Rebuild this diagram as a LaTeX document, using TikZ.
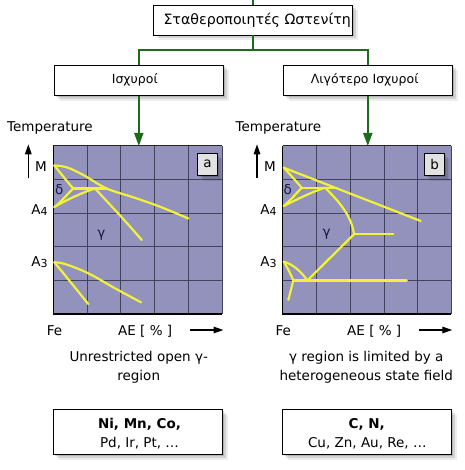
\documentclass[tikz,border=0pt]{standalone}
\usepackage{fontspec}
\setmainfont{DejaVu Sans}
\usetikzlibrary{arrows.meta,shadows}
\definecolor{conngreen}{RGB}{28,108,28}
\definecolor{chartbg}{RGB}{146,146,188}
\definecolor{gridc}{RGB}{66,66,92}
\definecolor{curvey}{RGB}{242,242,62}
\definecolor{greekc}{RGB}{22,22,70}
\definecolor{labelbg}{RGB}{226,226,226}
\tikzset{
  softshadow/.style={
    drop shadow={shadow xshift=1.5pt,shadow yshift=-1.5pt,opacity=0.14,fill=black},
    drop shadow={shadow xshift=3.5pt,shadow yshift=-3.5pt,opacity=0.11,fill=black},
    drop shadow={shadow xshift=5.5pt,shadow yshift=-5.5pt,opacity=0.07,fill=black}},
  box/.style={draw=black, line width=0.8pt, fill=white, softshadow, inner sep=0pt},
  boxtext/.style={inner sep=0pt, font=\fontsize{12.5}{15}\selectfont},
  lbl/.style={inner sep=0pt, font=\fontsize{13.5}{16}\selectfont},
  conn/.style={draw=conngreen, line width=2pt},
  connarrow/.style={conn, -{Triangle[width=9pt,length=13pt]}},
  axisarrow/.style={draw=black, line width=1.3pt, -{Triangle[width=6.5pt,length=10pt]}},
  ycurve/.style={draw=curvey, line width=2.2pt, line cap=round, line join=round},
  gridline/.style={draw=gridc, line width=0.8pt},
  chartnode/.style={fill=chartbg, inner sep=0pt, minimum width=168.7pt, minimum height=168pt, anchor=north west},
  greek/.style={inner sep=0pt, text=greekc, font=\fontsize{13.5}{15}\selectfont},
  tagbox/.style={draw=black, line width=0.9pt, fill=labelbg, softshadow, inner sep=0pt, minimum width=19.6pt, minimum height=21.7pt, font=\fontsize{13.5}{16}\selectfont}
}
\begin{document}
\begin{tikzpicture}[x=1pt,y=-1pt]
\useasboundingbox (0,0) rectangle (464,470);
\fill[white] (0,0) rectangle (464,470);

% ---- top hierarchy
\coordinate (topend) at (253.3,0);
\node[box, minimum width=199pt, minimum height=30pt] (tb) at (252.8,20) {};
\node[inner sep=0pt, anchor=west, font=\fontsize{14.2}{16}\selectfont] (tbt) at (163.3,20) {Σταθεροποιητές Ωστενίτη};
\node[box, minimum width=169pt, minimum height=30.7pt] (lb) at (138.8,80.3) {};
\node[box, minimum width=169pt, minimum height=30.7pt] (rb) at (367.8,80.3) {};
\node[boxtext] (lbt) at (134.8,80.3) {Ισχυροί};
\node[boxtext] (rbt) at (364.7,80.3) {Λιγότερο Ισχυροί};

\draw[conn] (topend) -- (tb.north -| topend);
\draw[conn] (tb.south -| topend) -- (253.3,51);
\draw[conn] (lb.north) -- ++(0,-14.3) -| (rb.north);

% ---- charts
\node[chartnode] (ca) at (53.3,146) {};
\node[chartnode] (cb) at (282.7,146) {};

\draw[connarrow] (lb.south) -- (lb.south |- ca.north);
\draw[connarrow] (rb.south) -- (rb.south |- cb.north);

\foreach \ox in {53.3,282.7}{
  \begin{scope}[shift={(\ox,146)}]
    \foreach \i in {1,2,3,4}{
      \draw[gridline] (\i*33.74,0) -- (\i*33.74,168);
      \draw[gridline] (0,\i*33.6) -- (168.7,\i*33.6);
    }
    \draw[gridline] (168.7,0) -- (168.7,168);
    \draw[draw=black!85, line width=1pt] (0,0) -- (168.7,0);
    \draw[black, line width=1.3pt] (0,0) -- (0,168) -- (168.7,168);
  \end{scope}
}

% chart a curves
\begin{scope}[shift={(53.3,146)}]
  \draw[ycurve] plot[smooth, tension=0.6] coordinates {(1,19.5) (13.4,21.3) (30,29) (53.4,42.5) (80,51.3) (106.7,60.7) (135,72.5)};
  \draw[ycurve] (1,19.5) .. controls (9,29) and (14,36) .. (20,42.5);
  \draw[ycurve] (1,61) .. controls (9,55) and (14,48) .. (20,42.5);
  \draw[ycurve] (20,42.5) -- (53.4,42.5);
  \draw[ycurve] (1,61) .. controls (15,53) and (28,47) .. (41.7,42.5);
  \draw[ycurve] (41.7,42.5) .. controls (58,60) and (74,77) .. (88.4,94);
  \draw[ycurve] plot[smooth, tension=0.6] coordinates {(1,116.3) (11.7,118) (35,127.3) (61.7,142.3) (87.7,156.3)};
  \draw[ycurve] (1,116.3) .. controls (10,127) and (22,142) .. (35,158);
\end{scope}

% chart b curves
\begin{scope}[shift={(282.7,146)}]
  \draw[ycurve] (1,21.7) -- (138,75);
  \draw[ycurve] (1,21.7) .. controls (8,29) and (14,36) .. (19,41.7);
  \draw[ycurve] (1,60) .. controls (8,54) and (14,47) .. (19,41.7);
  \draw[ycurve] (19,41.7) -- (54,41.7);
  \draw[ycurve] (1,60) .. controls (15,53) and (29,46) .. (42.3,41.7);
  \draw[ycurve] (42.3,41.7) .. controls (56,55) and (69,70) .. (71.3,88.3);
  \draw[ycurve] (71.3,88.3) -- (110.6,88.3);
  \draw[ycurve] (71.3,88.3) -- (24.6,134.5);
  \draw[ycurve] (10.6,134.5) -- (124,134.5);
  \draw[ycurve] (1,115.7) .. controls (10,118) and (19,126) .. (24.6,134.5);
  \draw[ycurve] (1,115.7) .. controls (5,122) and (8,128) .. (10.6,134.5);
  \draw[ycurve] (10.6,134.5) -- (5.6,154);
\end{scope}

% ---- chart labels a
\node[lbl, anchor=base west] (tempa) at (7,131.7) {Temperature};
\coordinate (upa0) at (28.3,178.3);
\coordinate (upa1) at (28.3,144.3);
\draw[axisarrow] (upa0) -- (upa1);
\node[lbl, anchor=base east] (ma) at (47,171.5) {M};
\node[lbl, anchor=base east] (a4a) at (47.8,214.3) {A\raisebox{-1pt}{\fontsize{11}{12}\selectfont 4}};
\node[lbl, anchor=base east] (a3a) at (47.8,266.7) {A\raisebox{-1pt}{\fontsize{11}{12}\selectfont 3}};
\node[greek] (dela) at (59.3,190) {δ};
\node[greek] (gama) at (101.3,235) {γ};
\node[lbl, anchor=base west] (fea) at (46.7,335) {Fe};
\node[lbl, anchor=base west] (aea) at (118,335) {AE [ \% ]};
\coordinate (ra0) at (190,330);
\coordinate (ra1) at (223.5,330);
\draw[axisarrow] (ra0) -- (ra1);
\node[tagbox] (taga) at (207.5,164.2) {a};

% ---- chart labels b
\node[lbl, anchor=base west] (tempb) at (235.5,131.7) {Temperature};
\coordinate (upb0) at (257,178.3);
\coordinate (upb1) at (257,144.3);
\draw[axisarrow] (upb0) -- (upb1);
\node[lbl, anchor=base east] (mb) at (276,171.5) {M};
\node[lbl, anchor=base east] (a4b) at (276.8,214.3) {A\raisebox{-1pt}{\fontsize{11}{12}\selectfont 4}};
\node[lbl, anchor=base east] (a3b) at (276.8,266.7) {A\raisebox{-1pt}{\fontsize{11}{12}\selectfont 3}};
\node[greek] (delb) at (287.7,189.3) {δ};
\node[greek] (gamb) at (326.7,234.3) {γ};
\node[lbl, anchor=base west] (feb) at (275.3,335) {Fe};
\node[lbl, anchor=base west] (aeb) at (347,335) {AE [ \% ]};
\coordinate (rb0) at (418.7,330);
\coordinate (rb1) at (452.3,330);
\draw[axisarrow] (rb0) -- (rb1);
\node[tagbox] (tagb) at (434.7,164.2) {b};

% ---- captions
\node[lbl, anchor=base] (capa1) at (138.7,361.7) {Unrestricted open γ-};
\node[lbl, anchor=base] (capa2) at (138.7,380) {region};
\node[lbl, anchor=base] (capb1) at (366.3,361.7) {γ region is limited by a};
\node[lbl, anchor=base] (capb2) at (366.3,380) {heterogeneous state field};

% ---- bottom boxes
\node[box, minimum width=169.4pt, minimum height=45pt] (ba) at (138,431.8) {};
\node[box, minimum width=169.4pt, minimum height=45pt] (bb) at (367,431.8) {};
\node[lbl, anchor=base, font=\bfseries\fontsize{13.5}{16}\selectfont] (ba1) at (139.5,428) {Ni, Mn, Co,};
\node[lbl, anchor=base] (ba2) at (139.5,447) {Pd, Ir, Pt, …};
\node[lbl, anchor=base, font=\bfseries\fontsize{13.5}{16}\selectfont] (bb1) at (366.7,428) {C, N,};
\node[lbl, anchor=base] (bb2) at (367.3,447) {Cu, Zn, Au, Re, …};
\end{tikzpicture}
\end{document}
